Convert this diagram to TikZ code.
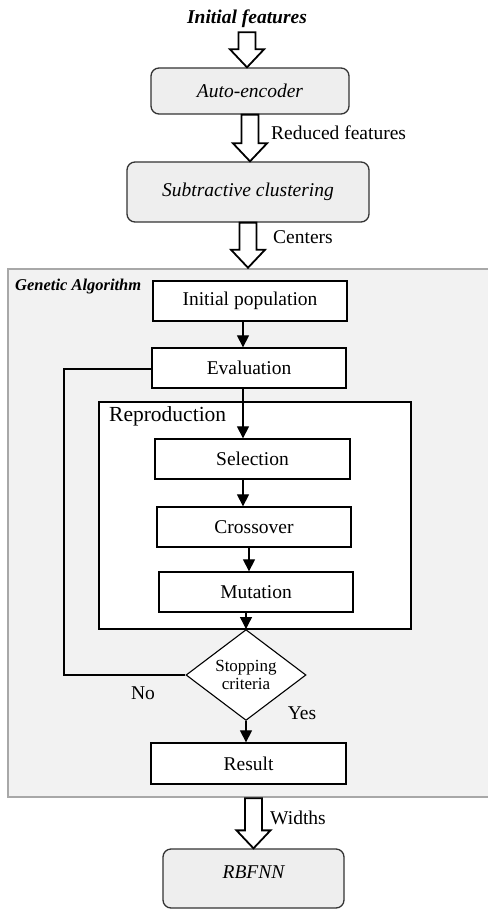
\documentclass[tikz,border=0pt]{standalone}
\usepackage{fontspec}
\setmainfont{Liberation Serif}
\usetikzlibrary{arrows.meta,shapes.geometric,calc}

\definecolor{boxgray}{HTML}{EEEEEE}
\definecolor{gafill}{HTML}{F2F2F2}
\definecolor{gaborder}{HTML}{A8A8A8}

% hollow block arrow between two points (pt units)
\newcommand{\bigarrow}[2]{%
  \draw[line width=1.8pt, fill=white, line join=miter] let \p1=(#1), \p2=(#2) in
    (\x1-8.5pt,\y1) -- (\x1+8.5pt,\y1) -- (\x1+8.5pt,\y2+18pt) -- (\x1+17pt,\y2+18pt)
    -- (\x1,\y2) -- (\x1-17pt,\y2+18pt) -- (\x1-8.5pt,\y2+18pt) -- cycle;}

\begin{document}
\begin{tikzpicture}[x=1pt, y=-1pt,
    font=\fontsize{19.5}{22}\selectfont,
    roundbox/.style={rectangle, draw=black!80, line width=1.3pt, fill=boxgray, rounded corners=8pt, align=center},
    stepbox/.style={rectangle, draw, line width=1.3pt, fill=white, minimum width=194pt, minimum height=40pt},
    decision/.style={diamond, draw, line width=1.1pt, fill=white, align=center, inner sep=0pt, minimum width=120pt, minimum height=64pt, font=\fontsize{17}{18}\selectfont},
    arrow/.style={-{Triangle[width=12pt,length=12pt]}, line width=1.2pt},
    plain/.style={inner sep=0pt}
]
\useasboundingbox (0,0) rectangle (487,909);

% genetic algorithm frame
\node[rectangle, draw=gaborder, line width=2.5pt, fill=gafill, minimum width=524pt, minimum height=528pt] (ga) at (270,533) {};
\node[plain, anchor=west, font=\fontsize{16.5}{18}\selectfont\bfseries\itshape] (galabel) at (15,287) {Genetic Algorithm};

\node[plain, font=\fontsize{19.5}{22}\selectfont\bfseries\itshape, minimum height=26pt] (init) at (247,19) {Initial features};
\node[roundbox, minimum width=198pt, minimum height=46pt] (ae) at (250,91) {\itshape Auto-encoder};
\node[roundbox, minimum width=242pt, minimum height=60pt] (sc) at (248,192) {\itshape Subtractive clustering};

\node[stepbox] (initpop) at (250,301) {Initial population};
\node[stepbox] (eval) at (249,368) {Evaluation};

\node[rectangle, draw, line width=1.3pt, fill=white, minimum width=312pt, minimum height=227pt] (repro) at (255,515.5) {};
\node[plain, anchor=west, font=\fontsize{21.5}{24}\selectfont] (reprolabel) at (109,416) {Reproduction};

\node[stepbox, minimum width=195pt] (sel) at (252.5,459) {Selection};
\node[stepbox] (cross) at (254,527) {Crossover};
\node[stepbox] (mut) at (256,592) {Mutation};

\node[decision] (stop) at (246,675) {Stopping\\criteria};
\node[stepbox, minimum width=195pt, minimum height=41pt] (result) at (248.5,763.5) {Result};

\node[roundbox, minimum width=181pt, minimum height=59pt, text depth=12pt] (rbf) at (253.5,878.5) {\itshape RBFNN};

\coordinate (loopc) at (64,369);

% block arrows
\bigarrow{init.south}{ae.north}
\bigarrow{ae.south}{sc.north}
\bigarrow{sc.south}{sc.south |- ga.north}
\bigarrow{rbf.north |- ga.south}{rbf.north}

\node[plain, anchor=west] (lredu) at (271,133) {Reduced features};
\node[plain, anchor=west] (lcent) at (273,237) {Centers};
\node[plain, anchor=west] (lwidth) at (270,818) {Widths};

% flow inside the GA
\draw[arrow] ([xshift=-7pt]initpop.south) -- ([xshift=-6pt]eval.north);
\draw[arrow] ([xshift=-6pt]eval.south) -- ([xshift=-9.5pt]sel.north);
\draw[arrow] ([xshift=-9.5pt]sel.south) -- ([xshift=-11pt]cross.north);
\draw[arrow] ([xshift=-5pt]cross.south) -- ([xshift=-7pt]mut.north);
\draw[arrow] (mut.south -| stop.north) -- (stop.north);
\draw[arrow] (stop.south) -- (result.north -| stop.south);
\draw[line width=1.2pt] (stop.west) -| (loopc) -- (eval.west |- loopc);

\node[plain] (lno) at (143,693) {No};
\node[plain] (lyes) at (302,713) {Yes};
\end{tikzpicture}
\end{document}
